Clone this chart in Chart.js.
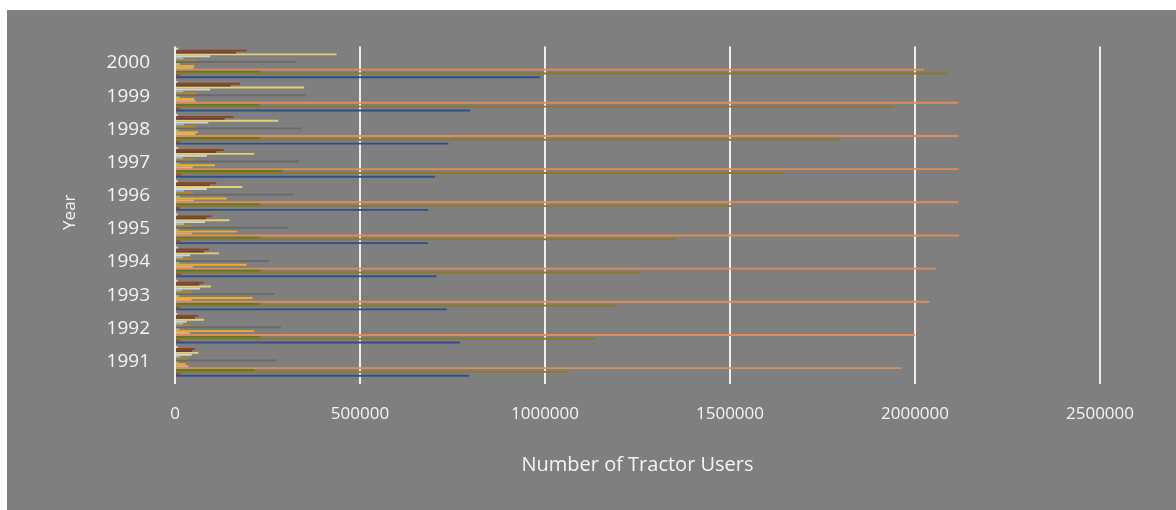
<!DOCTYPE html>
<html>
<head>
<meta charset="utf-8">
<script src="https://cdn.jsdelivr.net/npm/chart.js@4.4.0/dist/chart.umd.min.js"></script>
<style>
  html, body { margin: 0; padding: 0; background: #ffffff; }
  #wrap { position: absolute; left: 7px; top: 10px; width: 1169px; height: 500px; background: #7f7f7f; }
</style>
</head>
<body>
<div id="wrap"><canvas id="grafico" width="1169" height="500"></canvas></div>
<script>
// years, bottom to top
var years = ['1991','1992','1993','1994','1995','1996','1997','1998','1999','2000']

// one array per series (same year order)
var serieA = [8000, 6000, 7000, 8000, 7000, 8000, 9000, 8000, 7000, 9000]
var serieB = [54000, 63000, 77000, 92000, 99000, 111000, 132000, 158000, 176000, 194000]
var serieC = [46000, 54000, 66000, 78000, 84000, 94000, 112000, 134000, 150000, 165000]
var serieD = [63000, 78000, 97000, 119000, 147000, 182000, 214000, 279000, 349000, 437000]
var serieE = [45000, 32000, 68000, 41000, 81000, 86000, 86000, 90000, 95000, 95000]
var serieF = [14000, 22000, 20000, 22000, 25000, 25000, 22000, 24000, 22000, 22000]
var serieG = [35000, 42000, 44000, 46000, 49000, 49000, 55000, 55000, 58000, 59000]
var serieH = [275000, 286000, 268000, 254000, 305000, 320000, 335000, 342000, 354000, 329000]
var serieI = [10000, 12000, 11000, 12000, 10000, 13000, 12000, 11000, 12000, 13000]
var serieJ = [28000, 214000, 210000, 194000, 168000, 140000, 108000, 62000, 52000, 52000]
var serieK = [36000, 40000, 45000, 48000, 45000, 50000, 48000, 55000, 55000, 50000]
var serieL = [1963000, 2000000, 2039000, 2056000, 2118000, 2117000, 2117000, 2117000, 2116000, 2025000]
var serieM = [216000, 230000, 230000, 230000, 230000, 230000, 291000, 230000, 230000, 230000]
var serieN = [1063000, 1136000, 1195000, 1258000, 1353000, 1504000, 1648000, 1795000, 1942000, 2089000]
var serieO = [14000, 15000, 14000, 16000, 15000, 14000, 16000, 15000, 14000, 15000]
var serieP = [795000, 770000, 734000, 707000, 684000, 684000, 703000, 739000, 797000, 988000]

var xTicks = [0, 500000, 1000000, 1500000, 2000000, 2500000]

// top of each year band first
var series = [
  {datos: serieA, color: '#cfcfcf'},
  {datos: serieB, color: '#8a4420'},
  {datos: serieC, color: '#6a4430'},
  {datos: serieD, color: '#e6cf72'},
  {datos: serieE, color: '#d4d4cc'},
  {datos: serieF, color: '#8fb6dc'},
  {datos: serieG, color: '#b08a1c'},
  {datos: serieH, color: '#6a6a6a'},
  {datos: serieI, color: '#9cc47c'},
  {datos: serieJ, color: '#e8b224'},
  {datos: serieK, color: '#e6a682'},
  {datos: serieL, color: '#e08c58'},
  {datos: serieM, color: '#5c7a28'},
  {datos: serieN, color: '#8e7a26'},
  {datos: serieO, color: '#a04a1c'},
  {datos: serieP, color: '#2f4f8a'}
]

var etiquetas = years.slice().reverse()
var datasets = series.map(function(s, i){
  return {
    label: 'Serie ' + (i+1),
    data: s.datos.slice().reverse(),
    backgroundColor: s.color,
    borderWidth: 0,
    barPercentage: 1.0,
    categoryPercentage: 0.92
  }
})

var fuente = "'Open Sans', sans-serif"
var blanco = '#f4f4f4'

var ctx = document.getElementById('grafico').getContext('2d')
var chart = new Chart(ctx, {
  type: 'bar',
  data: { labels: etiquetas, datasets: datasets },
  options: {
    indexAxis: 'y',
    responsive: false,
    animation: false,
    layout: { padding: { top: 34, right: 76, left: 0, bottom: 0 } },
    plugins: { legend: { display: false }, tooltip: { enabled: false } },
    scales: {
      x: {
        min: 0,
        max: 2500000,
        afterBuildTicks: function(s){ s.ticks = xTicks.map(function(v){ return {value: v} }) },
        afterFit: function(s){ s.height = 132 },
        border: { display: false },
        grid: { color: '#efefef', lineWidth: 2, tickLength: 6, tickColor: '#efefef' },
        ticks: { color: blanco, font: { family: fuente, size: 17 }, padding: 20, maxRotation: 0,
                 callback: function(v){ return String(v) } },
        title: { display: true, text: 'Number of Tractor Users', color: blanco,
                 font: { family: fuente, size: 20 }, padding: { top: 0, bottom: 33 } }
      },
      y: {
        afterFit: function(s){ s.width = 168 },
        border: { display: false },
        grid: { display: false, drawTicks: false },
        ticks: { color: blanco, font: { family: fuente, size: 19 }, padding: 25 },
        title: { display: true, text: 'Year', color: blanco,
                 font: { family: fuente, size: 17 }, padding: { top: 53, bottom: 0 } }
      }
    }
  }
})
</script>
</body>
</html>
